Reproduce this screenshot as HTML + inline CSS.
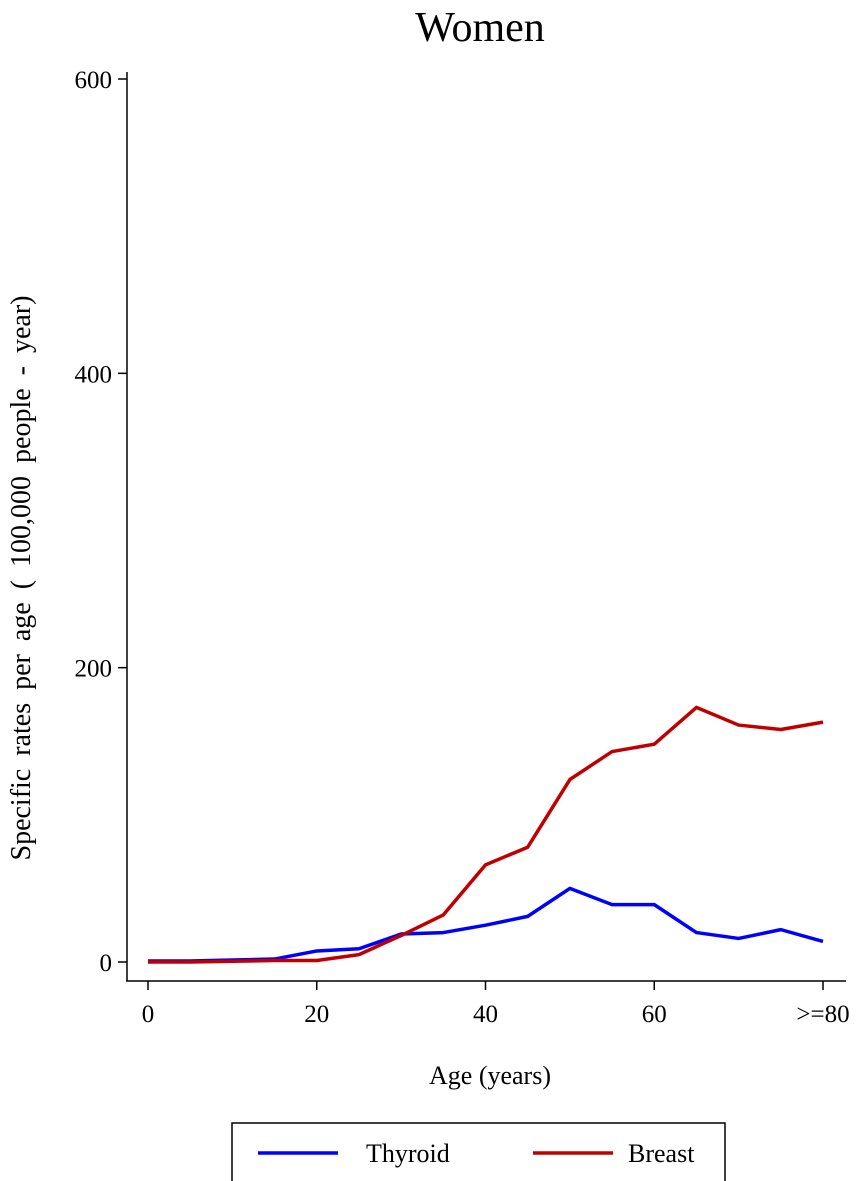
<!DOCTYPE html>
<html><head><meta charset="utf-8"><style>
body{margin:0;background:#fff;}
svg{display:block;font-family:"Liberation Serif",serif;}
</style></head><body>
<svg width="856" height="1181" viewBox="0 0 856 1181">
<text x="480" y="41" font-size="42" text-anchor="middle">Women</text>
<g id="axes"></g>
<g id="series"></g>
<text x="490" y="1084" font-size="26" text-anchor="middle">Age (years)</text>
<text transform="translate(30,578) rotate(-90)" font-size="28" word-spacing="6" text-anchor="middle">Specific rates per age  ( 100,000  people - year)</text>
<g>
<rect x="232" y="1123" width="493" height="60" fill="#fff" stroke="#000" stroke-width="1.5"/>
<line x1="258" y1="1153" x2="338" y2="1153" stroke="#0000ff" stroke-width="3.5"/>
<text x="366" y="1162" font-size="26">Thyroid</text>
<line x1="533" y1="1153" x2="613" y2="1153" stroke="#c00000" stroke-width="3.5"/>
<text x="628" y="1162" font-size="26">Breast</text>
</g>
</svg>
<script>
const ages=[0,5,10,15,20,25,30,35,40,45,50,55,60,65,70,75,80];
const thyroid=[0.7,0.7,1.4,2,7.5,9,19,20,25,31,50,39,39,20,16,22,14];
const breast=[0,0,0.5,1,1,5,18,32,66,78,124,143,148,173,161,158,163];
const yTicks=[0,200,400,600];
const xTicks=[0,20,40,60,80];
const xTickLabels=["0","20","40","60",">=80"];
const NS="http://www.w3.org/2000/svg";
const xs=v=>148+v*(823-148)/80;
const ys=v=>962-v*(962-79)/600;
function el(t,a,p){const e=document.createElementNS(NS,t);for(const k in a)e.setAttribute(k,a[k]);p.appendChild(e);return e;}
const ax=document.getElementById('axes');
const yl=el('line',{x1:127,y1:72,x2:127,y2:981,stroke:'#000','stroke-width':1.5},ax);


const xl=el('line',{x1:126,y1:981,x2:846,y2:981,stroke:'#000','stroke-width':1.5},ax);


yTicks.forEach(v=>{
 el('line',{x1:118,y1:ys(v),x2:127,y2:ys(v),stroke:'#000','stroke-width':1.5},ax);
 const t=el('text',{x:112,y:ys(v)+9,'font-size':25,'text-anchor':'end'},ax);t.textContent=v;
 
 
});
xTicks.forEach((v,i)=>{
 el('line',{x1:xs(v),y1:981,x2:xs(v),y2:990,stroke:'#000','stroke-width':1.5},ax);
 const t=el('text',{x:xs(v),y:1022,'font-size':25,'text-anchor':'middle'},ax);t.textContent=xTickLabels[i];
 
 
});
const sg=document.getElementById('series');
function line(d,c,n){const p=el('polyline',{points:ages.map((a,i)=>xs(a)+','+ys(d[i])).join(' '),fill:'none',stroke:c,'stroke-width':3.5,'stroke-linejoin':'round'},sg);
 
 }
line(thyroid,'#0000ff','thyroid-line');
line(breast,'#c00000','breast-line');
</script>
</body></html>
